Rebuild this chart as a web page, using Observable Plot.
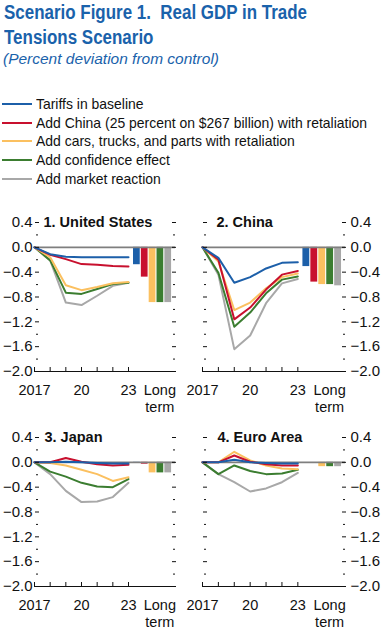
<!DOCTYPE html>
<html><head><meta charset="utf-8">
<script src="https://cdn.jsdelivr.net/npm/d3@7"></script>
<script src="https://cdn.jsdelivr.net/npm/@observablehq/plot@0.6"></script>
<style>
body{margin:0;background:#fff;}
#root{position:relative;width:387px;height:636px;overflow:hidden;font-family:"Liberation Sans",Arial,sans-serif;color:#111;}
.fit{display:inline-block;white-space:pre;transform-origin:0 50%;}
#title{position:absolute;left:4px;top:0px;color:#1a62ab;font-weight:bold;font-size:19.5px;line-height:25px;}
#title .fit{display:block;width:max-content;}
#subtitle{position:absolute;left:3px;top:49px;color:#1a62ab;font-style:italic;font-size:15px;line-height:20px;}
#legend{position:absolute;left:0;top:94.5px;}
.item{display:flex;align-items:center;height:18.8px;font-size:14.5px;white-space:nowrap;}
.sw{width:30px;height:2px;margin:0 4px 0 2px;flex:none;}
.panel{position:absolute;}
</style></head>
<body>
<div id="root">
  <div id="title"></div>
  <div id="subtitle"></div>
  <div id="legend"></div>
</div>
<script>
const titleLines = ["Scenario Figure 1.  Real GDP in Trade", "Tensions Scenario"];
const subtitle = "(Percent deviation from control)";
const years = [2017, 2018, 2019, 2020, 2021, 2022, 2023];
const seriesNames = [
  "Tariffs in baseline",
  "Add China (25 percent on $267 billion) with retaliation",
  "Add cars, trucks, and parts with retaliation",
  "Add confidence effect",
  "Add market reaction"
];
const seriesColors = ["#1c5fa9", "#c8102e", "#fbc060", "#3b7d30", "#a8a8a8"];
const panelTitles = ["1. United States", "2. China", "3. Japan", "4. Euro Area"];
const yTicks = [0.4, 0.0, -0.4, -0.8, -1.2, -1.6, -2.0];
const yMinorTicks = [0.2, -0.2, -0.6, -1.0, -1.4, -1.8];
const xTickYears = [2017, 2020, 2023];
const xTickLabels = ["2017", "20", "23"];
const longTermLabel = "Long\nterm";

// 1. United States
const usTariffs    = [0, -0.11, -0.15, -0.16, -0.16, -0.16, -0.16];
const usChina      = [0, -0.12, -0.19, -0.27, -0.28, -0.30, -0.31];
const usCars       = [0, -0.16, -0.61, -0.69, -0.64, -0.58, -0.56];
const usConfidence = [0, -0.21, -0.73, -0.75, -0.67, -0.59, -0.57];
const usMarket     = [0, -0.21, -0.89, -0.93, -0.78, -0.62, -0.57];
const usLongTerm   = [-0.28, -0.48, -0.89, -0.89, -0.89];
// 2. China
const cnTariffs    = [0, -0.17, -0.57, -0.48, -0.34, -0.25, -0.24];
const cnChina      = [0, -0.20, -1.16, -0.97, -0.68, -0.44, -0.38];
const cnCars       = [0, -0.23, -1.01, -0.89, -0.66, -0.48, -0.42];
const cnConfidence = [0, -0.41, -1.28, -1.05, -0.74, -0.52, -0.47];
const cnMarket     = [0, -0.44, -1.64, -1.42, -0.90, -0.58, -0.51];
const cnLongTerm   = [-0.31, -0.56, -0.60, -0.60, -0.62];
// 3. Japan
const jpTariffs    = [0, 0.00, 0.01, 0.00, -0.01, -0.02, -0.02];
const jpChina      = [0, 0.00, 0.07, 0.01, -0.03, -0.05, -0.04];
const jpCars       = [0, -0.01, -0.05, -0.12, -0.19, -0.30, -0.24];
const jpConfidence = [0, -0.15, -0.23, -0.33, -0.39, -0.40, -0.27];
const jpMarket     = [0, -0.19, -0.46, -0.64, -0.63, -0.56, -0.33];
const jpLongTerm   = [-0.01, -0.03, -0.17, -0.17, -0.17];
// 4. Euro Area
const euTariffs    = [0, 0.00, 0.04, 0.00, -0.01, -0.02, -0.02];
const euChina      = [0, 0.00, 0.11, 0.01, -0.03, -0.05, -0.05];
const euCars       = [0, 0.00, 0.17, 0.03, -0.05, -0.10, -0.11];
const euConfidence = [0, -0.19, -0.05, -0.14, -0.19, -0.18, -0.12];
const euMarket     = [0, -0.19, -0.32, -0.47, -0.42, -0.32, -0.17];
const euLongTerm   = [0, 0, -0.07, -0.07, -0.07];

const panelLines = [
  [usTariffs, usChina, usCars, usConfidence, usMarket],
  [cnTariffs, cnChina, cnCars, cnConfidence, cnMarket],
  [jpTariffs, jpChina, jpCars, jpConfidence, jpMarket],
  [euTariffs, euChina, euCars, euConfidence, euMarket]
];
const panelLongTerm = [usLongTerm, cnLongTerm, jpLongTerm, euLongTerm];

// ---- header (narrowed to mimic a condensed face) ----
function span(text) { const s = document.createElement("span"); s.className = "fit"; s.textContent = text; return s; }
function squeeze(els, target) {
  const w = Math.max(...els.map(e => e.getBoundingClientRect().width));
  els.forEach(e => e.style.transform = `scaleX(${target / w})`);
}
const titleEl = document.getElementById("title");
const tSpans = titleLines.map(t => span(t));
tSpans.forEach(s => titleEl.append(s));
const subEl = span(subtitle);
document.getElementById("subtitle").append(subEl);
const legend = document.getElementById("legend");
const legSpans = seriesNames.map((s, i) => {
  const it = document.createElement("div"); it.className = "item";
  const sw = document.createElement("div"); sw.className = "sw"; sw.style.background = seriesColors[i];
  const tx = span(s);
  it.append(sw, tx); legend.append(it);
  return tx;
});
squeeze(tSpans, 303);
squeeze([subEl], 216);
squeeze(legSpans, 331);

// ---- panels ----
const FONT = '"Liberation Sans",Arial,sans-serif';
const barStart = 2023.32, barPitch = 0.5, barWidth = 0.43;
const longTermPos = 2025;
const xLabelMap = new Map(xTickYears.map((y, i) => [y, xTickLabels[i]]));
xLabelMap.set(longTermPos, longTermLabel);
const fmt = d3.format(".1f");

const layouts = [
  {left: 0,   top: 200, width: 190, ml: 34, mr: 15, side: "left",  titleDx: 9},
  {left: 172, top: 200, width: 215, ml: 30, mr: 42, side: "right", titleDx: 14},
  {left: 0,   top: 415, width: 190, ml: 34, mr: 15, side: "left",  titleDx: 10},
  {left: 172, top: 415, width: 215, ml: 30, mr: 42, side: "right", titleDx: 15}
];

const root = document.getElementById("root");
layouts.forEach((L, p) => {
  const rows = [];
  for (let s = seriesNames.length - 1; s >= 0; s--) {
    years.forEach((yr, j) => rows.push({series: seriesNames[s], year: yr, value: panelLines[p][s][j]}));
  }
  const bars = seriesNames.map((s, i) => ({
    series: s, value: panelLongTerm[p][i],
    x1: barStart + i * barPitch, x2: barStart + i * barPitch + barWidth
  }));
  const chart = Plot.plot({
    width: L.width, height: 220,
    marginLeft: L.ml, marginRight: L.mr, marginTop: 22, marginBottom: 49,
    style: {fontFamily: FONT, fontSize: "14px", color: "#111", background: "transparent", overflow: "visible"},
    x: {domain: [2017, 2026]},
    y: {domain: [-2, 0.4]},
    color: {domain: seriesNames, range: seriesColors},
    marks: [
      Plot.rectY(bars, {x1: "x1", x2: "x2", y: "value", fill: "series"}),
      Plot.ruleY([0], {stroke: "#7f7f7f", strokeWidth: 1.6}),
      Plot.line(rows, {x: "year", y: "value", z: "series", stroke: "series", strokeWidth: 2}),
      Plot.ruleY([-2], {stroke: "#111", strokeWidth: 1.2}),
      Plot.axisX({ticks: years, tickSize: 4, dy: -4, tickFormat: () => "", stroke: "#111", label: null}),
      Plot.axisX({ticks: [...xTickYears, longTermPos], tickSize: 0, tickPadding: 11, lineHeight: 1.2,
        tickFormat: d => xLabelMap.get(d), fontSize: 14.5, label: null}),
      Plot.axisY({anchor: "left", ticks: yTicks, tickSize: 4, dx: 5, tickFormat: () => "", label: null}),
      Plot.axisY({anchor: "left", ticks: yMinorTicks, tickSize: 2, dx: 4, tickFormat: () => "", label: null}),
      Plot.axisY({anchor: "right", ticks: yTicks, tickSize: 4, dx: -4, tickFormat: () => "", label: null}),
      Plot.axisY({anchor: "right", ticks: yMinorTicks, tickSize: 2, dx: -3, tickFormat: () => "", label: null}),
      Plot.axisY({anchor: L.side, ticks: yTicks, tickSize: 0, tickPadding: L.side === "left" ? 2 : 5,
        tickFormat: d => fmt(d), fontSize: 15, label: null}),
      Plot.text([panelTitles[p]], {frameAnchor: "top-left", dx: L.titleDx, lineAnchor: "middle", textAnchor: "start",
        fontWeight: "bold", fontSize: 14.5, fill: "#111"})
    ]
  });
  chart.classList.add("panel");
  chart.style.left = L.left + "px";
  chart.style.top = L.top + "px";
  root.append(chart);
});
</script>
</body></html>
